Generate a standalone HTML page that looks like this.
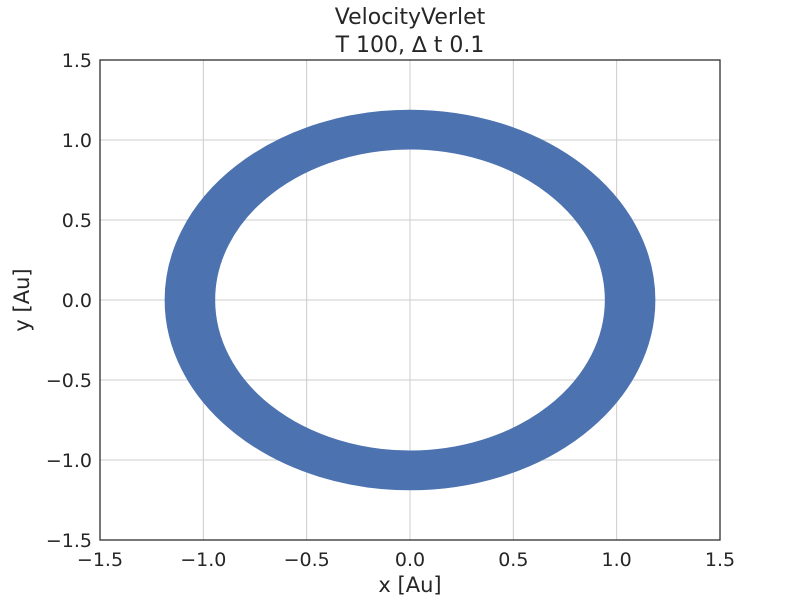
<!DOCTYPE html>
<html><head><meta charset="utf-8"><style>
body{margin:0;background:#fff;}
svg{display:block;font-family:"DejaVu Sans","Liberation Sans",sans-serif;}
</style></head><body>
<svg id="chart" width="800" height="600">
<rect width="800" height="600" fill="#fff"/>
<g id="grid"></g>
<g id="series"></g>
<rect x="100" y="60" width="620" height="480" fill="none" stroke="#262626" stroke-width="1.25"/>
<g id="ticks" font-size="19" fill="#262626"></g>
<text x="410" y="24" text-anchor="middle" font-size="22" fill="#262626">VelocityVerlet</text>
<text x="410" y="52" text-anchor="middle" font-size="22" fill="#262626">T 100, ∆ t 0.1</text>
<text x="410" y="592" text-anchor="middle" font-size="21" fill="#262626">x [Au]</text>
<text transform="translate(29,300) rotate(-90)" text-anchor="middle" font-size="21" fill="#262626">y [Au]</text>
</svg>
<script>
const xTicks=[-1.5,-1.0,-0.5,0.0,0.5,1.0,1.5];
const yTicks=[-1.5,-1.0,-0.5,0.0,0.5,1.0,1.5];
const orbitRadii=[0.95,0.96,0.97,0.98,0.99,1.0,1.01,1.02,1.03,1.04,1.05,1.06,1.07,1.08,1.09,1.1,1.11,1.12,1.13,1.14,1.15,1.16,1.17,1.18];
const NS='http://www.w3.org/2000/svg';
const X0=100,X1=720,Y0=540,Y1=60,DMIN=-1.5,DMAX=1.5;
const sx=v=>X0+(v-DMIN)/(DMAX-DMIN)*(X1-X0);
const sy=v=>Y0-(v-DMIN)/(DMAX-DMIN)*(Y0-Y1);
const fmt=v=>(v<0?'\u2212':'')+Math.abs(v).toFixed(1);
function mk(tag,attrs,parent){const e=document.createElementNS(NS,tag);for(const k in attrs)e.setAttribute(k,attrs[k]);parent.appendChild(e);return e;}
const grid=document.getElementById('grid'),ticks=document.getElementById('ticks'),series=document.getElementById('series');
xTicks.forEach(v=>{
 const l=mk('line',{x1:sx(v),x2:sx(v),y1:Y1,y2:Y0,stroke:'#cccccc','stroke-width':1},grid);
 
 
 const t=mk('text',{x:sx(v),y:Y0+26,'text-anchor':'middle'},ticks);t.textContent=fmt(v);
 
 
});
yTicks.forEach(v=>{
 const l=mk('line',{x1:X0,x2:X1,y1:sy(v),y2:sy(v),stroke:'#cccccc','stroke-width':1},grid);
 
 
 const t=mk('text',{x:X0-8,y:sy(v)+7,'text-anchor':'end'},ticks);t.textContent=fmt(v);
 
 
});
orbitRadii.forEach(r=>{
 const cx=sx(0),cy=sy(0),rx=sx(r)-sx(0),ry=sy(0)-sy(r);
 const e=mk('ellipse',{cx:cx,cy:cy,rx:rx,ry:ry,fill:'none',stroke:'#4c72b0','stroke-width':3},series);
 
 
});
</script>
</body></html>
